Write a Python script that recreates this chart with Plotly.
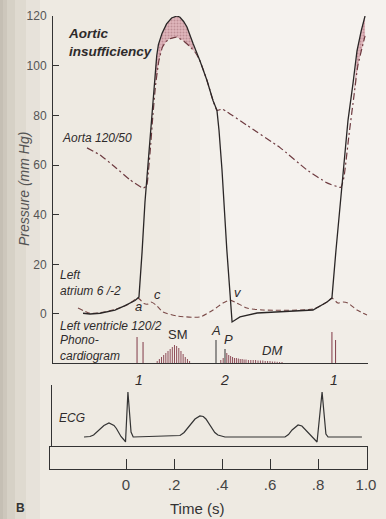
import plotly.graph_objects as go
import numpy as np

W, H = 386, 519

# ---------------- data ----------------
# Left ventricular pressure (mm Hg) vs time (s)
lv_t = [-0.179, -0.15, -0.108, -0.046, -0.004, 0.0375, 0.054, 0.058, 0.067, 0.079, 0.090,
        0.100, 0.110, 0.121, 0.128, 0.135, 0.150, 0.169, 0.190, 0.2125, 0.225, 0.240, 0.254,
        0.279, 0.308, 0.3375, 0.3625, 0.379, 0.3875, 0.40, 0.42, 0.442, 0.475, 0.546, 0.642,
        0.779, 0.8375, 0.858, 0.875, 0.904, 0.925, 0.946, 0.9625, 0.98, 0.996]
lv_p = [0.3, 0.0, 0.3, 1.6, 3.4, 5.4, 6.8, 12, 25, 45, 58,
        70, 84, 98, 104, 108.5, 113, 116.8, 119.2, 120, 119.5, 117.8, 115.6,
        109, 102, 94, 86, 82, 74, 58, 26, -3.2, -1.2, 0.4, 0.8,
        1.6, 4.8, 6.4, 25.8, 58, 78, 93, 106, 114, 120]

# Aortic pressure
ao_t = [-0.1625, -0.108, -0.046, 0.017, 0.071, 0.086, 0.094, 0.102, 0.112, 0.123, 0.137,
        0.152, 0.175, 0.210, 0.240, 0.2625, 0.2875, 0.308, 0.3375, 0.3625, 0.379, 0.40,
        0.421, 0.504, 0.642, 0.754, 0.8375, 0.895, 0.908, 0.929, 0.950, 0.966, 0.996]
ao_p = [66.9, 64, 59.2, 54, 50.7, 51.5, 58, 67, 80, 92, 102,
        107.5, 110.5, 111.5, 110, 108, 105.5, 102, 94, 86, 82, 82.5,
        81.4, 76, 67, 58, 52.8, 51, 55, 72, 88, 100, 112]

# Left atrial pressure
la_t = [-0.20, -0.15, -0.108, -0.046, 0.008, 0.05, 0.075, 0.092, 0.104, 0.125, 0.154,
        0.2125, 0.308, 0.3625, 0.404, 0.433, 0.4625, 0.504, 0.571, 0.779, 0.8375,
        0.858, 0.883, 0.904, 0.925, 0.9625, 1.004]
la_p = [2.4, 0.3, 0.5, 1.8, 3.8, 6.4, 4.2, 4.0, 4.8, 3.6, 0.8,
        -0.8, -1.2, 1.6, 4.4, 5.6, 4.4, 2.4, 1.6, 2.0, 4.8,
        6.4, 4.4, 4.8, 4.4, 1.6, -0.4]

# ECG (arbitrary units)
ecg_t = [-0.175, -0.15, -0.135, -0.121, -0.105, -0.092, -0.071, -0.05, -0.04, -0.033, -0.021,
         -0.008, -0.002, 0.008, 0.021, 0.03, 0.10, 0.20, 0.225, 0.242, 0.258, 0.2725, 0.2875,
         0.308, 0.322, 0.333, 0.345, 0.358, 0.37, 0.383, 0.4125, 0.6625, 0.677, 0.692, 0.705,
         0.717, 0.733, 0.745, 0.754, 0.775, 0.7875, 0.796, 0.817, 0.833, 0.842, 0.983]
ecg_v = [0.0, 0.05, 0.2, 0.5, 0.9, 1.15, 1.4, 1.15, 0.85, 0.5, 0.05,
         -0.3, -0.5, 4.5, 0.5, 0.0, 0.05, 0.1, 0.15, 0.45, 0.9, 1.4, 1.8,
         2.1, 2.05, 1.8, 1.35, 0.9, 0.45, 0.2, 0.0, 0.0, 0.25, 0.7, 1.0,
         1.2, 1.1, 0.8, 0.5, 0.05, -0.3, -0.5, 4.5, 0.3, 0.0, 0.0]

# Phonocardiogram (arbitrary amplitude)
s1_t = [0.046, 0.071, 0.858, 0.873]
s1_a = [26, 21, 31, 23]
sm_t = [0.130, 0.139, 0.148, 0.157, 0.166, 0.175, 0.184, 0.193, 0.202, 0.211, 0.220,
        0.229, 0.238, 0.247, 0.256, 0.265]
sm_a = [2, 4, 6, 8, 10, 12, 14, 16, 18, 17, 15, 12, 9, 6, 4, 2]
a2_t = [0.375]
a2_a = [23]
p2_t = [0.4125]
p2_a = [14]
dm_t = [0.395, 0.405, 0.42, 0.428, 0.436, 0.444, 0.452, 0.46, 0.468, 0.476, 0.484, 0.492,
        0.50, 0.51, 0.52, 0.53, 0.54, 0.55, 0.56, 0.57, 0.58, 0.59, 0.60, 0.61, 0.62,
        0.63, 0.64, 0.65]
dm_a = [3, 5, 10, 8, 7, 6, 5, 5, 4.5, 4, 4, 3.5,
        3.5, 3, 3, 3, 3, 2.5, 2.5, 2.5, 2, 2, 2, 1.5, 1.5,
        1.2, 1, 1]

p_ticks = [0, 20, 40, 60, 80, 100, 120]
t_ticks = [0, 0.2, 0.4, 0.6, 0.8, 1.0]
t_labels = ["0", ".2", ".4", ".6", ".8", "1.0"]

# ---------------- helpers ----------------
X0, XS = 126.0, 240.0          # pixel of t=0, pixels per second


def xr(a, b):
    return [(a - X0) / XS, (b - X0) / XS]


def px(x, y):
    return x / W, 1 - y / H


def sticks(ts, amps):
    xs, ys = [], []
    for t, a in zip(ts, amps):
        xs += [t, t, None]
        ys += [0, a, None]
    return xs, ys


def band(t0, t1):
    # polygon between LV (upper) and aorta (lower) within [t0, t1]
    at = [t for t in ao_t if t0 <= t <= t1]
    ap = [p for t, p in zip(ao_t, ao_p) if t0 <= t <= t1]
    lt = [t for t in lv_t if t0 <= t <= t1]
    up = list(np.interp(lt, lv_t, lv_p))
    return at + lt[::-1], ap + up[::-1]


INK = "#2a2626"
MAROON = "#6e3b40"
TXT = "#2e2b2b"
FONT = "Liberation Sans, Arial, sans-serif"
NARROW = "Liberation Sans Narrow, Liberation Sans, Arial, sans-serif"

fig = go.Figure()

# shaded regurgitant gradient
for (t0, t1) in [(0.12, 0.2875), (0.95, 0.996)]:
    bx, by = band(t0, t1)
    fig.add_trace(go.Scatter(x=bx, y=by, fill="toself", mode="lines", line=dict(width=0),
                             fillcolor="rgba(214,160,168,0.85)",
                             fillpattern=dict(shape=".", fgcolor="#a26a74", bgcolor="rgba(221,176,182,0.9)",
                                              size=3, solidity=0.35),
                             hoverinfo="skip", showlegend=False))

fig.add_trace(go.Scatter(x=ao_t, y=ao_p, mode="lines",
                         line=dict(color=MAROON, width=1.2, dash="7px,3px,2px,3px", shape="spline", smoothing=0.4),
                         showlegend=False))
fig.add_trace(go.Scatter(x=la_t, y=la_p, mode="lines",
                         line=dict(color="#7b4a48", width=1.1, dash="5px,3px", shape="spline", smoothing=0.6),
                         showlegend=False))
fig.add_trace(go.Scatter(x=lv_t, y=lv_p, mode="lines",
                         line=dict(color=INK, width=1.3),
                         showlegend=False))

# phonocardiogram
for ts, am, col, wd in [(s1_t, s1_a, "#8a4a55", 1.1), (sm_t, sm_a, "#8e4c58", 1.0),
                        (dm_t, dm_a, "#8e4c58", 1.0), (a2_t, a2_a, "#444", 1.1),
                        (p2_t, p2_a, "#444", 1.1)]:
    xs, ys = sticks(ts, am)
    fig.add_trace(go.Scatter(x=xs, y=ys, mode="lines", line=dict(color=col, width=wd),
                             yaxis="y2", showlegend=False, hoverinfo="skip"))

# ECG
fig.add_trace(go.Scatter(x=ecg_t, y=ecg_v, mode="lines", yaxis="y3",
                         line=dict(color="#333", width=1.2), showlegend=False))

# time-scale box (empty trace so that its axes are drawn)
fig.add_trace(go.Scatter(x=[], y=[], xaxis="x2", yaxis="y4", showlegend=False))

# ---------------- layout ----------------
shapes = []
# page shading (photo of a book page)
for k, op in [(40, 0.08), (26, 0.10), (15, 0.12), (7, 0.15), (3, 0.15)]:
    shapes.append(dict(type="rect", xref="paper", yref="paper", x0=0, x1=k / W, y0=0, y1=1,
                       fillcolor="#9d9283", opacity=op, line=dict(width=0), layer="below"))
for (a, b, c, d) in [(230, 386, 0, 260), (200, 386, 0, 320), (170, 386, 0, 380)]:
    shapes.append(dict(type="rect", xref="paper", yref="paper", x0=a / W, x1=b / W,
                       y0=1 - d / H, y1=1 - c / H, fillcolor="white", opacity=0.18,
                       line=dict(width=0), layer="below"))

ann = []


def label(text, x, y, size=12, italic=True, anchor="left", color=TXT, angle=0, bold=False, fam=FONT):
    t = text
    if italic:
        t = "<i>" + t + "</i>"
    if bold:
        t = "<b>" + t + "</b>"
    ax, ay = px(x, y)
    ann.append(dict(text=t, x=ax, y=ay, xref="paper", yref="paper", xanchor=anchor, yanchor="middle",
                    align="left" if anchor == "left" else "center",
                    showarrow=False, textangle=angle, font=dict(size=size, color=color, family=fam)))


label("Aortic<br>insufficiency", 66, 42.5, size=13.5, bold=True)
label("Aorta 120/50", 60, 138)
label("Left<br>atrium 6 /-2", 58, 283)
label("Left ventricle 120/2", 58, 326)
label("Phono-<br>cardiogram", 58, 347.5)
label("a", 138, 307, size=13, anchor="center")
label("c", 157, 294, size=13, anchor="center")
label("v", 238, 292, size=13, anchor="center")
label("SM", 178, 334, size=13, italic=False, anchor="center")
label("A", 216, 330, size=13, anchor="center")
label("P", 228, 339, size=13, anchor="center")
label("DM", 272, 350, size=13, anchor="center")
label("1", 139, 380, size=14, anchor="center")
label("2", 225, 380, size=14, anchor="center")
label("1", 334, 380, size=14, anchor="center")
label("ECG", 57, 418)
label("Pressure (mm Hg)", 24, 189, size=14, anchor="center", angle=-90, color="#555")
label("Time (s)", 197, 508, size=15, italic=False, anchor="center", color="#333")
label("B", 20, 508, size=12, italic=False, bold=True, anchor="center", color="#333", fam=NARROW)

fig.update_layout(
    width=W, height=H, autosize=False,
    margin=dict(l=0, r=0, t=0, b=0, pad=0),
    paper_bgcolor="#eeeae2", plot_bgcolor="rgba(0,0,0,0)",
    showlegend=False,
    shapes=shapes, annotations=ann,
    xaxis=dict(domain=[53 / W, 368 / W], range=xr(53, 368), anchor="y", automargin=False,
               showline=True, linecolor="#333", linewidth=1, showticklabels=False,
               ticks="", showgrid=False, zeroline=False),
    yaxis=dict(domain=[1 - 363 / H, 1 - 16 / H], range=[-(363 - 314) / 2.483, 120], anchor="x",
               automargin=False,
               showline=True, linecolor="#333", linewidth=1, ticks="inside", ticklen=6,
               tickcolor="#333", tickvals=p_ticks, ticklabelstandoff=3,
               tickfont=dict(size=12, color="#555", family=NARROW),
               showgrid=False, zeroline=False),
    yaxis2=dict(domain=[1 - 363 / H, 1 - 330 / H], range=[0, 33], anchor="x", visible=False,
                automargin=False),
    yaxis3=dict(domain=[1 - 447 / H, 1 - 385 / H], range=[-1, 5.2], anchor="free", position=51 / W,
                automargin=False,
                showline=True, linecolor="#333", linewidth=1, showticklabels=False, ticks="",
                showgrid=False, zeroline=False),
    xaxis2=dict(domain=[50 / W, 367 / W], range=xr(50, 367), anchor="y4", automargin=False,
                showline=True, mirror=True, linecolor="#333", linewidth=1,
                ticks="inside", ticklen=10, tickcolor="#333", tickvals=t_ticks, ticktext=t_labels,
                ticklabelstandoff=2, tickfont=dict(size=15, color="#444", family=FONT),
                showgrid=False, zeroline=False),
    yaxis4=dict(domain=[1 - 469 / H, 1 - 447 / H], range=[0, 1], anchor="x2", automargin=False,
                showline=True, mirror=True, linecolor="#333", linewidth=1,
                showticklabels=False, ticks="", showgrid=False, zeroline=False),
)

fig.write_html("out.html")
